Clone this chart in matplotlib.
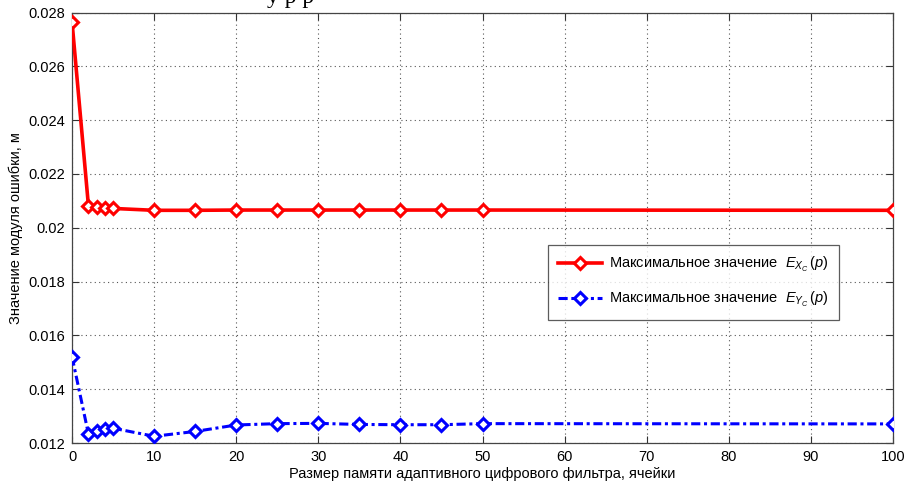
import matplotlib
matplotlib.use("Agg")
import matplotlib.pyplot as plt
from matplotlib.ticker import MultipleLocator, FuncFormatter

x = [0, 2, 3, 4, 5, 10, 15, 20, 25, 30, 35, 40, 45, 50, 100]
ex = [0.02765, 0.02081, 0.02079, 0.02074, 0.02072, 0.02065, 0.02065, 0.02066,
      0.02066, 0.02066, 0.02066, 0.02066, 0.02066, 0.02066, 0.02065]
ey = [0.01521, 0.01233, 0.01246, 0.01252, 0.01255, 0.01225, 0.01243, 0.01267,
      0.01272, 0.01273, 0.01269, 0.01268, 0.01268, 0.01272, 0.01271]

label_x = r"Максимальное значение  $E_{X_C}\,(p)$"
label_y = r"Максимальное значение  $E_{Y_C}\,(p)$"
xlabel = "Размер памяти адаптивного цифрового фильтра, ячейки"
ylabel = "Значение модуля ошибки, м"

plt.rcParams['font.family'] = ['Liberation Sans', 'DejaVu Sans']
plt.rcParams['mathtext.fontset'] = 'custom'
plt.rcParams['mathtext.it'] = 'Liberation Sans:italic'
plt.rcParams['mathtext.rm'] = 'Liberation Sans'

fig = plt.figure(figsize=(9.05, 4.88), dpi=100)
ax = fig.add_axes([0.0796, 0.0922, 0.9071, 0.882])

ax.plot(x, ex, color='#ff0000', lw=2.6, marker='D', ms=6, mfc='white',
        mec='#ff0000', mew=2.2, label=label_x, zorder=3)
ax.plot(x, ey, color='#0000ff', lw=2.2, ls=(0, (3, 1.2, 1, 1.2)), marker='D', ms=6,
        mfc='white', mec='#0000ff', mew=2.2, label=label_y, zorder=3)

ax.set_xlim(0, 100)
ax.set_ylim(0.012, 0.028)
ax.xaxis.set_major_locator(MultipleLocator(10))
ax.yaxis.set_major_locator(MultipleLocator(0.002))
ax.yaxis.set_major_formatter(FuncFormatter(lambda v, p: f"{v:.3f}".rstrip('0')))
ax.grid(True, color='#555555', ls=(0, (1, 3)), lw=0.8)
ax.tick_params(direction='in', top=True, right=True, labelsize=10.5, length=5,
               color='#333333', pad=5)
for s in ax.spines.values():
    s.set_color('#444444')
    s.set_linewidth(0.9)

ax.set_xlabel(xlabel, fontsize=10.5, labelpad=2)
ax.set_ylabel(ylabel, fontsize=10.5, labelpad=4)

leg = ax.legend(loc='upper left', bbox_to_anchor=(0.58, 0.46), fontsize=10.5,
                frameon=True, fancybox=False, edgecolor='#333333',
                handlelength=3.0, handletextpad=0.5, borderpad=0.7,
                labelspacing=1.1, borderaxespad=0)
leg.get_frame().set_linewidth(0.9)

fig.text(0.295, 0.993, "у р р", family='Liberation Serif', fontsize=17,
         va='baseline', ha='left')

fig.savefig("out.png", dpi=100)
